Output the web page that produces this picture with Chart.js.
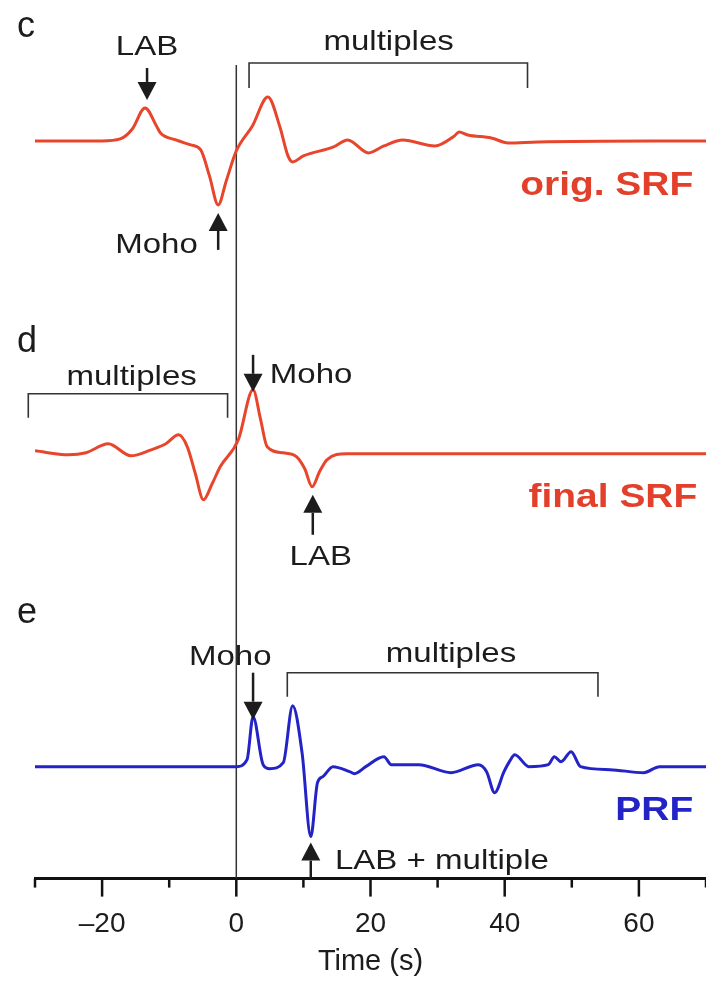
<!DOCTYPE html>
<html>
<head>
<meta charset="utf-8">
<script src="https://cdn.jsdelivr.net/npm/chart.js@4.4.1/dist/chart.umd.min.js"></script>
<style>
  html, body { margin: 0; padding: 0; background: #fff; }
  canvas { display: block; }
</style>
</head>
<body>
<canvas id="rf" width="706" height="982"></canvas>
<script>
// original S receiver function (c)
const srfOrigTime = [-30, -20, -17.3, -15.5, -13.6, -11.9, -11.3, -9, -6.8, -5.3, -4, -2.7, -1.5, 0, 2.4, 4.7, 6.5, 7.7, 8.4, 10, 14.5, 16.6, 19.7, 22, 24.8, 29.6, 32.5, 33.2, 34.5, 38, 40.5, 45, 70];
const srfOrigAmp  = [0, 0, 0.02, 0.12, 0.33, 0.15, 0.08, 0.01, -0.04, -0.09, -0.35, -0.64, -0.4, -0.1, 0.15, 0.44, 0.14, -0.15, -0.21, -0.15, -0.06, 0.01, -0.12, -0.05, 0.01, -0.05, 0.05, 0.09, 0.06, 0.03, -0.02, -0.01, 0];

// final S receiver function (d)
const srfFinalTime = [-30, -25, -22.4, -19.1, -15.7, -12.7, -10.5, -8.6, -7.3, -6.1, -4.9, -3.6, -2.4, 0.3, 2.5, 3.6, 4.6, 7, 9, 10.2, 11.3, 12.4, 13.5, 16.4, 70];
const srfFinalAmp  = [0.03, -0.01, 0.01, 0.10, -0.02, 0.04, 0.10, 0.19, 0.07, -0.2, -0.46, -0.3, -0.13, 0.14, 0.64, 0.35, 0.07, 0.01, -0.03, -0.15, -0.33, -0.18, -0.06, 0, 0];

// P receiver function (e)
const prfTime = [-30, 0, 1.6, 2.5, 4, 5, 7, 8.4, 9.8, 11.1, 12.1, 12.9, 14.4, 16.9, 17.6, 19.3, 22, 23.1, 27.2, 32, 36.1, 37.3, 38.5, 39.9, 40.7, 41.5, 43.6, 46.5, 47.4, 48.4, 49.9, 51.3, 55.7, 60.7, 63.1, 70];
const prfAmp  = [0, 0, 0.07, 0.5, 0.02, -0.02, 0.04, 0.61, 0.14, -0.70, -0.16, -0.10, 0, -0.05, -0.07, 0, 0.10, 0.02, 0.02, -0.06, 0.02, -0.05, -0.26, -0.05, 0.05, 0.12, 0, 0.02, 0.10, 0.05, 0.15, 0, -0.03, -0.06, 0, 0];

// vertical placement of each trace on the shared y scale
const traceOffset = { orig: 7.38, final: 4.25, prf: 1.12 };
const zeroLineTop = 8.14;

const FONT = '"Liberation Sans", Arial, Helvetica, sans-serif';
const INK = '#1c1c1c';
const RED = '#e8462c';
const RED_TEXT = '#e2402a';
const BLUE = '#2323c6';

// text labels: t = time (s), v = level on the y scale
const notes = [
  { text: 'c', t: -32.7, v: 8.42, align: 'left', font: '36px', sx: 1 },
  { text: 'LAB', t: -13.3, v: 8.24, align: 'center' },
  { text: 'Moho', t: -11.9, v: 6.26, align: 'center' },
  { text: 'multiples', t: 22.7, v: 8.29, align: 'center' },
  { text: 'orig. SRF', t: 68.1, v: 6.84, align: 'right', font: 'bold 33px', color: RED_TEXT },

  { text: 'd', t: -32.7, v: 5.27, align: 'left', font: '36px', sx: 1 },
  { text: 'multiples', t: -15.6, v: 4.94, align: 'center' },
  { text: 'Moho', t: 5.0, v: 4.96, align: 'left' },
  { text: 'LAB', t: 12.6, v: 3.14, align: 'center' },
  { text: 'final SRF', t: 68.7, v: 3.72, align: 'right', font: 'bold 33px', color: RED_TEXT },

  { text: 'e', t: -32.7, v: 2.56, align: 'left', font: '36px', sx: 1 },
  { text: 'Moho', t: -0.9, v: 2.14, align: 'center' },
  { text: 'multiples', t: 32.0, v: 2.17, align: 'center' },
  { text: 'LAB + multiple', t: 14.7, v: 0.10, align: 'left' },
  { text: 'PRF', t: 68.1, v: 0.59, align: 'right', font: 'bold 33px', color: BLUE }
];

// arrows from tail level to tip level at a given time
const arrows = [
  { t: -13.3, from: 8.11, to: 7.79 },
  { t: -2.7, from: 6.29, to: 6.66 },
  { t: 2.5, from: 5.24, to: 4.87 },
  { t: 11.4, from: 3.44, to: 3.84 },
  { t: 2.5, from: 2.06, to: 1.59 },
  { t: 11.1, from: 0.0, to: 0.36 }
];

// brackets marking the multiples windows
const brackets = [
  { t1: 1.9, t2: 43.4, top: 8.16, bottom: 7.91 },
  { t1: -31.0, t2: -1.3, top: 4.85, bottom: 4.61 },
  { t1: 7.6, t2: 53.9, top: 2.06, bottom: 1.82 }
];

const toPoints = (time, amp, off) => time.map((t, i) => ({ x: t, y: amp[i] + off }));

const annotations = {
  id: 'annotations',
  afterDatasetsDraw(chart) {
    const { ctx, scales: { x, y } } = chart;
    ctx.save();

    ctx.strokeStyle = '#333';
    ctx.lineWidth = 1.6;
    brackets.forEach(b => {
      const x1 = x.getPixelForValue(b.t1), x2 = x.getPixelForValue(b.t2);
      const yt = y.getPixelForValue(b.top), yb = y.getPixelForValue(b.bottom);
      ctx.beginPath();
      ctx.moveTo(x1, yb);
      ctx.lineTo(x1, yt);
      ctx.lineTo(x2, yt);
      ctx.lineTo(x2, yb);
      ctx.stroke();
    });

    ctx.strokeStyle = INK;
    ctx.fillStyle = INK;
    ctx.lineWidth = 2.5;
    arrows.forEach(a => {
      const px = x.getPixelForValue(a.t);
      const y0 = y.getPixelForValue(a.from), y1 = y.getPixelForValue(a.to);
      const dir = Math.sign(y1 - y0);
      const head = 18;
      ctx.beginPath();
      ctx.moveTo(px, y0);
      ctx.lineTo(px, y1 - dir * head);
      ctx.stroke();
      ctx.beginPath();
      ctx.moveTo(px, y1);
      ctx.lineTo(px - 9.5, y1 - dir * head);
      ctx.lineTo(px + 9.5, y1 - dir * head);
      ctx.closePath();
      ctx.fill();
    });

    notes.forEach(n => {
      const px = x.getPixelForValue(n.t), py = y.getPixelForValue(n.v);
      ctx.save();
      ctx.translate(px, py);
      ctx.scale(n.sx || 1.18, 1);
      ctx.font = (n.font || '28px') + ' ' + FONT;
      ctx.fillStyle = n.color || INK;
      ctx.textAlign = n.align;
      ctx.textBaseline = 'alphabetic';
      ctx.fillText(n.text, 0, 0);
      ctx.restore();
    });

    // axis tick marks: long at labelled values, short between
    const base = x.top;
    ctx.strokeStyle = '#111';
    ctx.lineWidth = 2.5;
    x.ticks.forEach(tk => {
      const px = x.getPixelForValue(tk.value);
      const len = tk.value % 20 === 0 ? 18 : 9;
      ctx.beginPath();
      ctx.moveTo(px, base);
      ctx.lineTo(px, base + len);
      ctx.stroke();
    });

    ctx.restore();
  }
};

new Chart(document.getElementById('rf'), {
  type: 'line',
  data: {
    datasets: [
      {
        data: toPoints(srfOrigTime, srfOrigAmp, traceOffset.orig),
        borderColor: RED, borderWidth: 3
      },
      {
        data: toPoints(srfFinalTime, srfFinalAmp, traceOffset.final),
        borderColor: RED, borderWidth: 3
      },
      {
        data: toPoints(prfTime, prfAmp, traceOffset.prf),
        borderColor: BLUE, borderWidth: 3
      },
      {
        data: [{ x: 0, y: 0 }, { x: 0, y: zeroLineTop }],
        borderColor: '#333', borderWidth: 1.5, cubicInterpolationMode: 'default', tension: 0
      }
    ]
  },
  options: {
    responsive: false,
    animation: false,
    devicePixelRatio: 1,
    layout: { autoPadding: false, padding: { left: 35, right: 0, top: 0, bottom: 0 } },
    elements: {
      point: { radius: 0, hoverRadius: 0 },
      line: { cubicInterpolationMode: 'monotone', fill: false }
    },
    plugins: { legend: { display: false }, tooltip: { enabled: false } },
    scales: {
      x: {
        type: 'linear',
        min: -30, max: 70,
        border: { display: true, width: 3, color: '#111' },
        // tick marks are drawn by the plugin; the invisible grid tick only spaces the labels
        grid: { drawOnChartArea: false, drawTicks: true, tickLength: 29, color: 'rgba(0,0,0,0)' },
        ticks: {
          stepSize: 10,
          autoSkip: false,
          maxRotation: 0,
          padding: 0,
          color: INK,
          font: { family: FONT, size: 28 },
          callback: v => (v % 20 === 0 ? (v < 0 ? '\u2013' + Math.abs(v) : String(v)) : '')
        },
        title: {
          display: true,
          text: 'Time (s)',
          color: INK,
          font: { family: FONT, size: 29 },
          padding: { top: 3, bottom: 3 }
        }
      },
      y: { display: false, min: 0, max: 8.79 }
    }
  },
  plugins: [annotations]
});
</script>
</body>
</html>
